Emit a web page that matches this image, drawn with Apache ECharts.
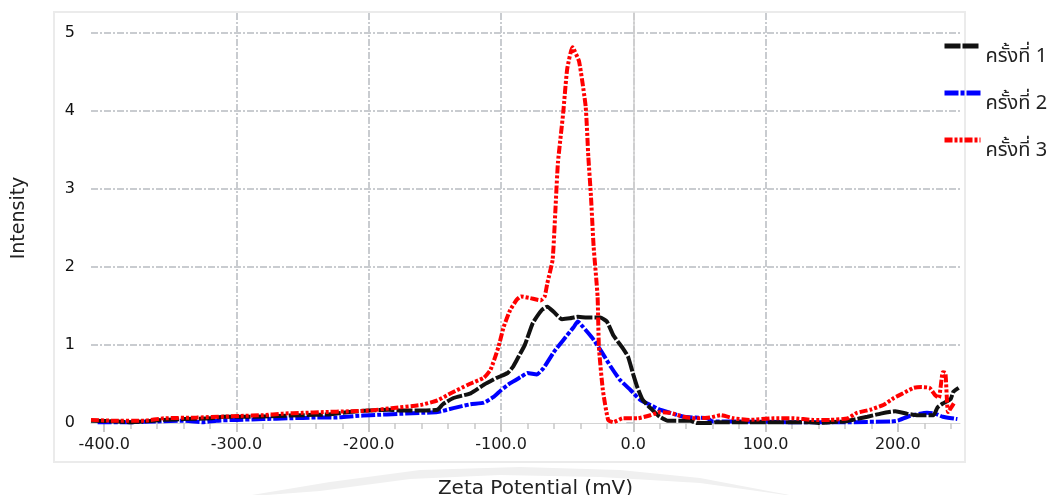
<!DOCTYPE html>
<html>
<head>
<meta charset="utf-8">
<script src="https://cdn.jsdelivr.net/npm/echarts@6/dist/echarts.min.js"></script>
<style>
html,body{margin:0;padding:0;background:#fff;}
#chart{width:1051px;height:495px;}
</style>
</head>
<body>
<div id="chart"></div>
<script>
// ---- data ----
var seriesNames = ['ครั้งที่ 1', 'ครั้งที่ 2', 'ครั้งที่ 3'];
var xMajorTicks = [-400, -300, -200, -100, 0, 100, 200];
var xMinorTicks = [-380,-360,-340,-320,-280,-260,-240,-220,-180,-160,-140,-120,-80,-60,-40,-20,20,40,60,80,120,140,160,180,220,240];
var yTicks = [0, 1, 2, 3, 4, 5];

var zeta1 = [-410,-390,-380,-370,-355,-340,-320,-310,-290,-270,-250,-230,-215,-200,-185,-174,-160,-148,-144,-136,-123,-113,-103,-95,-91,-88,-82,-76,-69,-65,-60,-54,-48,-42,-35,-25,-20,-15,-8,-4,0,3,7,13,20,26,43,48,58,62,100,134,140,149,160,166,177,187,198,207,215,227,230,234,240,242,246];
var intensity1 = [0.03,0.02,0.01,0.02,0.04,0.05,0.06,0.08,0.08,0.09,0.10,0.11,0.14,0.16,0.17,0.16,0.16,0.17,0.24,0.32,0.38,0.49,0.58,0.64,0.72,0.81,1.00,1.28,1.45,1.49,1.42,1.33,1.34,1.36,1.35,1.35,1.30,1.12,0.96,0.85,0.62,0.46,0.30,0.19,0.08,0.03,0.03,0.00,0.00,0.01,0.01,0.01,0.00,0.01,0.02,0.04,0.08,0.12,0.15,0.12,0.10,0.10,0.20,0.25,0.31,0.40,0.45];

var zeta2 = [-405,-380,-360,-340,-325,-315,-300,-280,-260,-240,-225,-210,-199,-174,-160,-148,-136,-123,-113,-106,-100,-93,-85,-80,-73,-68,-60,-53,-45,-42,-38,-31,-25,-17,-10,-2,5,13,20,28,38,56,60,80,120,160,195,200,209,222,228,234,245];
var intensity2 = [0.01,0.01,0.02,0.03,0.01,0.03,0.04,0.05,0.06,0.07,0.07,0.09,0.10,0.12,0.13,0.14,0.19,0.24,0.26,0.33,0.42,0.51,0.59,0.64,0.62,0.70,0.91,1.06,1.23,1.30,1.23,1.09,0.94,0.72,0.55,0.42,0.30,0.23,0.17,0.13,0.08,0.06,0.02,0.02,0.01,0.01,0.02,0.03,0.09,0.13,0.12,0.08,0.05];

var zeta3 = [-410,-395,-370,-355,-330,-297,-280,-265,-250,-234,-215,-199,-183,-161,-148,-138,-125,-113,-108,-102,-98,-93,-88,-85,-78,-70,-67,-65,-61,-59,-57,-53,-50,-46,-41,-36,-34,-32,-30,-27,-26,-23,-19,-15,-8,3,13,20,28,38,48,58,66,76,88,106,121,136,149,162,169,179,189,197,204,212,218,224,228,231,234,236,238,243];
var intensity3 = [0.04,0.03,0.03,0.06,0.07,0.09,0.10,0.12,0.13,0.14,0.15,0.16,0.19,0.23,0.29,0.38,0.49,0.58,0.68,0.97,1.23,1.45,1.58,1.62,1.60,1.57,1.62,1.79,2.09,2.69,3.33,3.97,4.53,4.81,4.63,4.05,3.41,2.90,2.26,1.62,0.97,0.42,0.04,0.01,0.06,0.06,0.10,0.14,0.13,0.08,0.06,0.07,0.10,0.06,0.04,0.06,0.06,0.04,0.04,0.06,0.13,0.17,0.23,0.32,0.38,0.45,0.46,0.45,0.36,0.32,0.65,0.64,0.14,0.27];

function pairs(xs, ys) { return xs.map(function (x, i) { return [x, ys[i]]; }); }

var chart = echarts.init(document.getElementById('chart'), null, {renderer: 'canvas'});
var gridColor = '#c9ccd0';
var gridDash = [7, 2, 2, 2];
var fontMain = 'DejaVu Sans, Verdana, sans-serif';
var fontThai = 'Noto Sans Thai, Tahoma, Loma, Garuda, DejaVu Sans, sans-serif';

var option = {
  backgroundColor: '#ffffff',
  animation: false,
  graphic: [
    {
      type: 'polygon', z: -10, silent: true,
      shape: {points: [[240,497],[330,482],[420,470],[520,467],[620,470],[700,478],[800,497],[700,483],[600,477],[500,475],[410,479],[320,491]]},
      style: {fill: '#f0f0f0'}
    },
    {
      type: 'rect', z: -5, silent: true,
      shape: {x: 54, y: 12, width: 911, height: 450},
      style: {fill: 'none', stroke: '#ebebeb', lineWidth: 2}
    }
  ],
  grid: {left: 91, right: 91, top: 13, bottom: 72, show: false, outerBoundsMode: 'none', containLabel: false},
  legend: {
    orient: 'vertical',
    left: 937,
    top: 19,
    itemWidth: 36,
    itemHeight: 14,
    itemGap: 3,
    data: seriesNames,
    itemStyle: {opacity: 0},
    lineStyle: {width: 5},
    formatter: '{t|{name}}',
    textStyle: {
      fontFamily: fontThai, fontSize: 20, color: '#222',
      rich: {t: {fontFamily: fontThai, fontSize: 20, color: '#222', lineHeight: 22, padding: [24, 0, 0, 0]}}
    }
  },
  xAxis: [
    {
      type: 'value', min: -410, max: 247,
      name: 'Zeta Potential (mV)', nameLocation: 'middle', nameGap: 56,
      nameTextStyle: {fontFamily: fontMain, fontSize: 20, color: '#222', padding: [0, 0, 0, 20]},
      axisLine: {show: true, lineStyle: {color: '#d4d4d4', width: 1}},
      axisTick: {show: true, customValues: xMinorTicks, length: 6, lineStyle: {color: '#c9c9c9', width: 1.5}},
      axisLabel: {show: false},
      splitLine: {show: false}
    },
    {
      type: 'value', min: -410, max: 247, position: 'bottom',
      axisLine: {show: false},
      axisTick: {show: true, customValues: xMajorTicks, length: 9, lineStyle: {color: '#c9c9c9', width: 2}},
      axisLabel: {show: true, customValues: xMajorTicks, margin: 14, fontFamily: fontMain, fontSize: 16, color: '#1a1a1a',
        formatter: function (v) { return Number(v).toFixed(1); }},
      splitLine: {show: true, showMinLine: false, showMaxLine: false, lineStyle: {color: gridColor, width: 2, type: gridDash}}
    }
  ],
  yAxis: {
    type: 'value', min: 0, max: 5.25, interval: 1,
    name: 'Intensity', nameLocation: 'middle', nameGap: 62,
    nameTextStyle: {fontFamily: fontMain, fontSize: 19, color: '#222'},
    axisLine: {show: true, lineStyle: {color: '#cfcfcf', width: 1.5}},
    axisTick: {show: true, length: 9, lineStyle: {color: gridColor, width: 2, type: gridDash}},
    axisLabel: {margin: 16, fontFamily: fontMain, fontSize: 16, color: '#111', showMaxLabel: false,
      formatter: function (v) { return yTicks.indexOf(v) >= 0 ? String(v) : ''; }},
    splitLine: {show: true, showMinLine: false, showMaxLine: false, lineStyle: {color: gridColor, width: 2, type: gridDash}}
  },
  series: [
    {
      name: seriesNames[0], type: 'line', xAxisIndex: 0, data: pairs(zeta1, intensity1), symbol: 'none', smooth: 0.15, z: 4,
      itemStyle: {color: '#111111'},
      lineStyle: {color: '#111111', width: 4, type: [16, 2]}
    },
    {
      name: seriesNames[1], type: 'line', xAxisIndex: 0, data: pairs(zeta2, intensity2), symbol: 'none', smooth: 0.15, z: 3,
      itemStyle: {color: '#0000ff'},
      lineStyle: {color: '#0000ff', width: 4, type: [14, 2, 4, 2]}
    },
    {
      name: seriesNames[2], type: 'line', xAxisIndex: 0, data: pairs(zeta3, intensity3), symbol: 'none', smooth: 0.15, z: 5,
      itemStyle: {color: '#ff0000'},
      lineStyle: {color: '#ff0000', width: 4, type: [8, 2, 3, 2, 3, 2]}
    }
  ]
};
chart.setOption(option);
</script>
</body>
</html>
